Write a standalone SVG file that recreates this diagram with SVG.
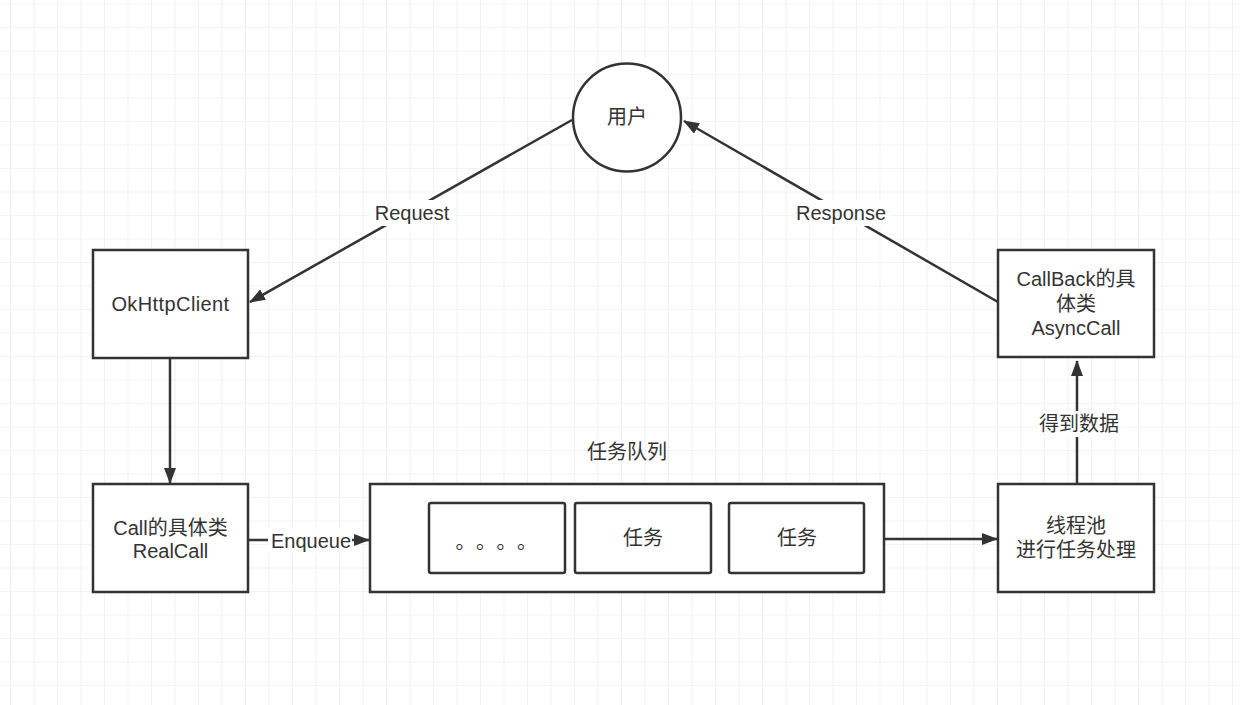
<svg xmlns="http://www.w3.org/2000/svg" width="1240" height="705" viewBox="0 0 1240 705">
  <defs>
    <pattern id="grid" patternUnits="userSpaceOnUse" x="10" y="3.5" width="23.5" height="23.5">
      <path d="M0 0H23.5M0 0V23.5" fill="none" stroke="#e9e9e9" stroke-width="1.2"/>
    </pattern>
    <marker id="arr" viewBox="0 0 16 12" refX="15" refY="6" markerWidth="16" markerHeight="12" markerUnits="userSpaceOnUse" orient="auto">
      <path d="M0 0L16 6L0 12Z" fill="#333"/>
    </marker>
    <style>
      .box { fill: #fff; stroke: #333; stroke-width: 2.5; }
      .ibox { fill: #fff; stroke: #333; stroke-width: 2.5; }
      .t { font-family: "Liberation Sans", Arial, "Noto Sans CJK SC", sans-serif; font-size: 20px; fill: #333; text-anchor: middle; }
      .cjk { font-family: "Noto Sans CJK SC", "Liberation Sans", sans-serif; }
      .edge { fill: none; stroke: #333; stroke-width: 2.5; }
      .lbl { fill: #fff; }
    </style>
  </defs>
  <rect width="1240" height="705" fill="#fff"/>
  <rect width="1240" height="705" fill="url(#grid)"/>

  <g id="connectors">
    <path class="edge" d="M572 120L250 302" marker-end="url(#arr)"/>
    <path class="edge" d="M998 302L684 121" marker-end="url(#arr)"/>
    <path class="edge" d="M170 358V483" marker-end="url(#arr)"/>
    <path class="edge" d="M248 540H369" marker-end="url(#arr)"/>
    <path class="edge" d="M884 539H997" marker-end="url(#arr)"/>
    <path class="edge" d="M1077 484V361" marker-end="url(#arr)"/>
    <rect class="lbl" x="370" y="200" width="84" height="26"/>
    <text class="t" x="412" y="220">Request</text>
    <rect class="lbl" x="794" y="200" width="96" height="26"/>
    <text class="t" x="841" y="220">Response</text>
    <rect class="lbl" x="268" y="529" width="84" height="24"/>
    <text class="t" x="311" y="548">Enqueue</text>
    <rect class="lbl" x="1037" y="411" width="84" height="26"/>
    <text class="t cjk" x="1079" y="431">得到数据</text>
  </g>

  <g id="user">
    <circle cx="627" cy="117.5" r="54" fill="#fff" stroke="#333" stroke-width="2.5"/>
    <text class="t cjk" x="627" y="124">用户</text>
  </g>

  <g id="okhttpclient">
    <rect class="box" x="93" y="250" width="155" height="108"/>
    <text class="t" x="170.5" y="311" letter-spacing="0.4">OkHttpClient</text>
  </g>

  <g id="realcall">
    <rect class="box" x="93" y="484" width="155" height="108"/>
    <text class="t" x="170.5" y="535">Call的具体类</text>
    <text class="t" x="170.5" y="558">RealCall</text>
  </g>

  <g id="queue">
    <text class="t cjk" x="627" y="459">任务队列</text>
    <rect class="box" x="370" y="484" width="514" height="108"/>
    <g id="task-dots">
      <rect class="ibox" x="429" y="503" width="136" height="70" rx="2"/>
      <text class="t cjk" x="455.5 476 496.5 517" y="549" font-size="21" style="text-anchor:start">。。。。</text>
    </g>
    <g id="task-1">
      <rect class="ibox" x="575" y="503" width="136" height="70" rx="2"/>
      <text class="t cjk" x="643" y="545">任务</text>
    </g>
    <g id="task-2">
      <rect class="ibox" x="729" y="503" width="135" height="70" rx="2"/>
      <text class="t cjk" x="797" y="545">任务</text>
    </g>
  </g>

  <g id="threadpool">
    <rect class="box" x="998" y="484" width="156" height="108"/>
    <text class="t" x="1076" y="533">线程池</text>
    <text class="t" x="1076" y="557">进行任务处理</text>
  </g>

  <g id="asynccall">
    <rect class="box" x="998" y="250" width="156" height="107"/>
    <text class="t" x="1076" y="286">CallBack的具</text>
    <text class="t" x="1076" y="311">体类</text>
    <text class="t" x="1076" y="335">AsyncCall</text>
  </g>
</svg>
